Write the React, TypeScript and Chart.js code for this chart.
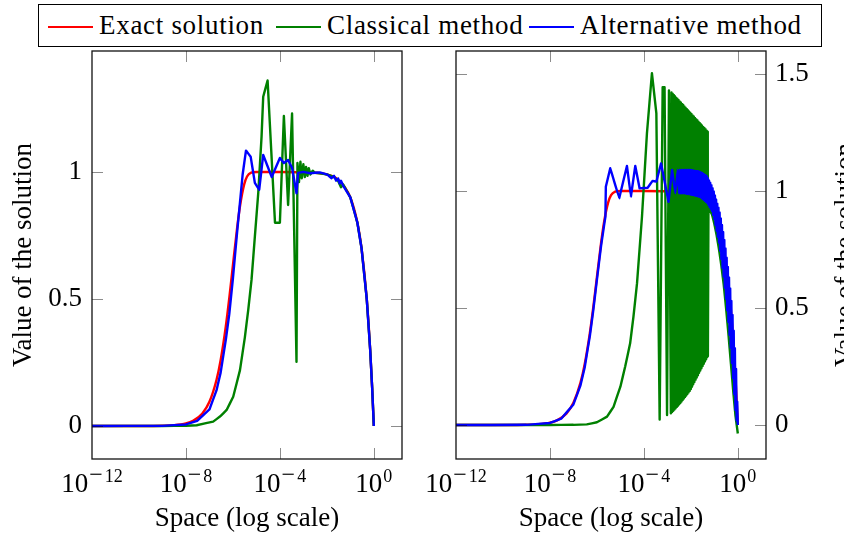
import { useEffect, useRef } from 'react';
import { Chart, registerables } from 'chart.js';

Chart.register(...registerables);

const SERIF = "'Liberation Serif', 'Times New Roman', serif";
const FS = 27;

const seriesLabels = ['Exact solution', 'Classical method', 'Alternative method'];
const seriesColors = ['#ff0000', '#008000', '#0000ff'];

const xTitle = 'Space (log scale)';
const yTitle = 'Value of the solution';
const xTickValues = [1e-12, 1e-8, 1e-4, 1];
const xTickExponents = ['−12', '−8', '−4', '0'];
const xMin = 1e-12;
const xMax = 15.85;
const leftYTicks = [0, 0.5, 1];
const rightYTicks = [0, 0.5, 1, 1.5];
const leftYRange = [-0.13, 1.476];
const rightYRange = [-0.145, 1.598];

// Exact solution (same in both panels)
const exactX = [1e-12, 1e-10, 1e-9, 3e-9, 1e-8, 2e-8, 5e-8, 1e-7, 2e-7, 3e-7, 5e-7, 7e-7, 1e-6, 1.5e-6, 2e-6, 3e-6, 4e-6, 6e-6, 1e-5, 1e-4, 1e-3, 1e-2, 3e-2, 0.1, 0.2, 0.3, 0.5, 0.7, 0.85, 1];
const exactY = [0, 0.0001, 0.001, 0.003, 0.01, 0.02, 0.049, 0.095, 0.181, 0.259, 0.393, 0.503, 0.632, 0.777, 0.865, 0.95, 0.982, 0.997, 1, 1, 0.999, 0.99, 0.97, 0.9, 0.8, 0.7, 0.5, 0.3, 0.15, 0];

// Left panel – classical method
const leftClassicalX = [1e-12, 1e-9, 1e-8, 2.85e-8, 1.44e-7, 2.8e-7, 5.4e-7, 1.03e-6, 2e-6, 3.24e-6, 4.5e-6, 6.2e-6, 8.6e-6, 1.2e-5, 1.66e-5, 1.95e-5, 3.0e-5, 6.2e-5, 1e-4, 1.48e-4, 2.24e-4, 3.3e-4, 5.1e-4, 5.6e-4, 6.5e-4, 7.5e-4, 8.5e-4, 1e-3, 1.15e-3, 1.3e-3, 1.5e-3, 1.7e-3, 2e-3, 2.5e-3, 3e-3, 5e-3, 1e-2, 2e-2, 3e-2, 4e-2, 5e-2, 0.1, 0.2, 0.3, 0.5, 0.7, 0.85, 1];
const leftClassicalY = [0, 0, 0.0005, 0.003, 0.017, 0.037, 0.063, 0.115, 0.22, 0.35, 0.457, 0.575, 0.745, 0.917, 1.139, 1.296, 1.36, 0.8, 0.8, 1.22, 0.87, 1.23, 0.253, 1.035, 0.96, 1.04, 0.975, 1.03, 0.98, 1.02, 0.985, 1.015, 0.99, 1.005, 0.997, 0.995, 0.99, 0.98, 0.965, 0.94, 0.95, 0.9, 0.8, 0.7, 0.5, 0.3, 0.15, 0];

// Left panel – alternative method
const leftAlternativeX = [1e-12, 1e-9, 1e-8, 3e-8, 1e-7, 2e-7, 3e-7, 5e-7, 7e-7, 1e-6, 1.5e-6, 2e-6, 2.6e-6, 3.6e-6, 5.7e-6, 8.6e-6, 1.32e-5, 1.95e-5, 4.5e-5, 1e-4, 1.48e-4, 2.24e-4, 3.3e-4, 5.1e-4, 6e-4, 1e-3, 2e-3, 5e-3, 1e-2, 1.2e-2, 1.6e-2, 2e-2, 2.5e-2, 3e-2, 3.5e-2, 4e-2, 5e-2, 0.1, 0.2, 0.3, 0.5, 0.7, 0.85, 1];
const leftAlternativeY = [0, 0.0005, 0.006, 0.02, 0.065, 0.14, 0.21, 0.34, 0.44, 0.58, 0.76, 0.88, 0.99, 1.084, 1.06, 0.957, 0.93, 1.067, 0.98, 1.055, 1.035, 1.047, 1.016, 0.916, 0.996, 1.0, 0.995, 0.998, 0.99, 0.985, 0.975, 0.985, 0.965, 0.975, 0.955, 0.965, 0.945, 0.9, 0.8, 0.7, 0.5, 0.3, 0.15, 0];

// Right panel – classical method
const rightClassicalX = [1e-12, 1e-8, 1e-7, 3.7e-7, 1e-6, 2.7e-6, 5.1e-6, 1e-5, 1.6e-5, 2.6e-5, 3.6e-5, 5.1e-5, 8.3e-5, 1.35e-4, 2.2e-4, 3.4e-4, 4.7e-4, 6.3e-4, 7.6e-4, 9.7e-4, 1.17e-3, 1.41e-3,
  1.497e-3, 1.585e-3, 1.679e-3, 1.778e-3, 1.884e-3, 1.995e-3, 2.113e-3, 2.239e-3, 2.371e-3, 2.512e-3, 2.661e-3, 2.818e-3, 2.985e-3, 3.162e-3, 3.35e-3, 3.548e-3, 3.758e-3, 3.981e-3, 4.217e-3, 4.467e-3, 4.732e-3, 5.012e-3, 5.309e-3, 5.623e-3, 5.957e-3, 6.31e-3, 6.683e-3, 7.079e-3, 7.499e-3, 7.943e-3, 8.414e-3, 8.913e-3, 9.441e-3,
  1e-2, 1.059e-2, 1.122e-2, 1.189e-2, 1.259e-2, 1.334e-2, 1.413e-2, 1.496e-2, 1.585e-2, 1.679e-2, 1.778e-2, 1.884e-2, 1.995e-2, 2.113e-2, 2.239e-2, 2.371e-2, 2.512e-2, 2.661e-2, 2.818e-2, 2.985e-2, 3.162e-2, 3.35e-2, 3.548e-2, 3.758e-2, 3.981e-2, 4.217e-2, 4.467e-2, 4.732e-2, 5.012e-2, 5.248e-2, 5.309e-2,
  5.623e-2, 7.943e-2, 0.1, 0.1259, 0.1585, 0.1995, 0.2512, 0.3162, 0.3981, 0.5012, 0.631, 0.7943, 1];
const rightClassicalY = [0, 0.0002, 0.001, 0.003, 0.012, 0.036, 0.078, 0.164, 0.25, 0.349, 0.463, 0.605, 0.89, 1.246, 1.503, 1.332, 0.024, 1.443, 1.443, 0.043, 1.43, 0.05,
  1.421, 0.0555, 1.416, 0.061, 1.41, 0.0665, 1.405, 0.072, 1.399, 0.0775, 1.394, 0.083, 1.389, 0.0885, 1.383, 0.094, 1.378, 0.1005, 1.372, 0.107, 1.367, 0.1135, 1.361, 0.12, 1.356, 0.1265, 1.35, 0.133, 1.345, 0.1395, 1.34, 0.146, 1.334,
  0.154, 1.329, 0.164, 1.323, 0.174, 1.318, 0.184, 1.312, 0.194, 1.307, 0.203, 1.302, 0.213, 1.296, 0.223, 1.291, 0.233, 1.285, 0.243, 1.28, 0.252, 1.274, 0.262, 1.269, 0.272, 1.264, 0.281, 1.258, 0.291, 1.253, 0.295,
  0.93, 0.9, 0.86, 0.81, 0.75, 0.68, 0.6, 0.5, 0.39, 0.27, 0.15, 0.04, -0.036];

// Right panel – alternative method
const rightAlternativeX = [1e-12, 1e-9, 1e-8, 3e-8, 1e-7, 2e-7, 3e-7, 5e-7, 7e-7, 1e-6, 1.5e-6, 2e-6, 2.3e-6, 2.4e-6, 3.7e-6, 8.9e-6, 1.9e-5, 2.8e-5, 4.3e-5, 6.6e-5, 1.45e-4, 2.34e-4, 3.4e-4, 5.4e-4, 1.12e-3, 1.58e-3, 2.2e-3, 2.75e-3,
  3.162e-3, 3.35e-3, 3.548e-3, 3.758e-3, 3.981e-3, 4.217e-3, 4.467e-3, 4.732e-3, 5.012e-3, 5.309e-3, 5.623e-3, 5.957e-3, 6.31e-3, 6.683e-3, 7.079e-3, 7.499e-3, 7.943e-3, 8.414e-3, 8.913e-3, 9.441e-3,
  1e-2, 1.059e-2, 1.122e-2, 1.189e-2, 1.259e-2, 1.334e-2, 1.413e-2, 1.496e-2, 1.585e-2, 1.679e-2, 1.778e-2, 1.884e-2, 1.995e-2, 2.113e-2, 2.239e-2, 2.371e-2, 2.512e-2, 2.661e-2, 2.818e-2, 2.985e-2,
  3.162e-2, 3.35e-2, 3.548e-2, 3.758e-2, 3.981e-2, 4.217e-2, 4.467e-2, 4.732e-2, 5.012e-2, 5.309e-2, 5.623e-2, 5.957e-2, 6.31e-2, 6.683e-2, 7.079e-2, 7.499e-2, 7.943e-2, 8.414e-2, 8.913e-2, 9.441e-2,
  0.1, 0.1059, 0.1122, 0.1189, 0.1259, 0.1334, 0.1413, 0.1496, 0.1585, 0.1679, 0.1778, 0.1884, 0.1995, 0.2113, 0.2239, 0.2371, 0.2512, 0.2661, 0.2818, 0.2985,
  0.3162, 0.335, 0.3548, 0.3758, 0.3981, 0.4217, 0.4467, 0.4732, 0.5012, 0.5309, 0.5623, 0.5957, 0.631, 0.6683, 0.7079, 0.7499, 0.7943, 0.8414, 0.8913, 0.9441, 1];
const rightAlternativeY = [0, 0.001, 0.009, 0.027, 0.088, 0.17, 0.245, 0.38, 0.49, 0.62, 0.765, 0.85, 0.89, 1.018, 1.097, 0.969, 1.107, 0.976, 1.107, 1.011, 1.014, 1.043, 1.04, 1.118, 0.954, 1.09, 0.99, 1.09,
  0.99, 1.09, 0.99, 1.09, 0.99, 1.09, 0.99, 1.09, 0.99, 1.09, 0.989, 1.09, 0.988, 1.09, 0.988, 1.09, 0.987, 1.09, 0.986, 1.09,
  0.985, 1.089, 0.984, 1.088, 0.983, 1.087, 0.982, 1.086, 0.98, 1.085, 0.979, 1.084, 0.978, 1.083, 0.976, 1.081, 0.975, 1.078, 0.971, 1.077,
  0.967, 1.073, 0.963, 1.07, 0.958, 1.066, 0.954, 1.063, 0.95, 1.055, 0.941, 1.045, 0.932, 1.035, 0.924, 1.025, 0.915, 1.012, 0.898, 0.998,
  0.88, 0.981, 0.855, 0.964, 0.83, 0.946, 0.805, 0.929, 0.78, 0.908, 0.745, 0.883, 0.71, 0.855, 0.672, 0.825, 0.634, 0.791, 0.587, 0.754,
  0.54, 0.715, 0.49, 0.675, 0.44, 0.631, 0.385, 0.584, 0.33, 0.53, 0.265, 0.47, 0.2, 0.403, 0.132, 0.328, 0.064, 0.24, 0.02, 0.1, 0];

const pts = (xs: number[], ys: number[]) => xs.map((x, i) => ({ x, y: ys[i] }));

function makeDatasets(classX: number[], classY: number[], altX: number[], altY: number[]) {
  return [
    { label: seriesLabels[0], data: pts(exactX, exactY), borderColor: seriesColors[0], backgroundColor: seriesColors[0], borderWidth: 2.4, pointRadius: 0, fill: false, cubicInterpolationMode: 'monotone' as const, order: 3, borderJoinStyle: 'round' as const },
    { label: seriesLabels[1], data: pts(classX, classY), borderColor: seriesColors[1], backgroundColor: seriesColors[1], borderWidth: 2.4, pointRadius: 0, fill: false, tension: 0.0001, order: 2, borderJoinStyle: 'round' as const },
    { label: seriesLabels[2], data: pts(altX, altY), borderColor: seriesColors[2], backgroundColor: seriesColors[2], borderWidth: 2.4, pointRadius: 0, fill: false, tension: 0.0001, order: 1, borderJoinStyle: 'round' as const },
  ];
}

function decorPlugin(rightTitle: boolean) {
  return {
    id: 'decor',
    afterDatasetsDraw(chart: any) {
      const { ctx, chartArea: a, scales } = chart;
      const xs = scales.x;
      const ys = scales.y;
      ctx.save();
      // inner ticks
      ctx.strokeStyle = 'rgba(0,0,0,0.45)';
      ctx.lineWidth = 1;
      ctx.beginPath();
      for (const v of xTickValues) {
        const px = Math.round(xs.getPixelForValue(v)) + 0.5;
        if (px < a.left + 2 || px > a.right - 2) continue;
        ctx.moveTo(px, a.bottom); ctx.lineTo(px, a.bottom - 11);
        ctx.moveTo(px, a.top); ctx.lineTo(px, a.top + 11);
      }
      for (const t of ys.ticks) {
        const py = Math.round(ys.getPixelForValue(t.value)) + 0.5;
        ctx.moveTo(a.left, py); ctx.lineTo(a.left + 11, py);
        ctx.moveTo(a.right, py); ctx.lineTo(a.right - 11, py);
      }
      ctx.stroke();
      // frame
      ctx.strokeStyle = '#111';
      ctx.lineWidth = 1.3;
      ctx.strokeRect(a.left, a.top, a.right - a.left, a.bottom - a.top);
      // x tick labels 10^n
      ctx.fillStyle = '#000';
      ctx.textBaseline = 'alphabetic';
      ctx.textAlign = 'left';
      xTickValues.forEach((v, i) => {
        const px = xs.getPixelForValue(v);
        const exp = xTickExponents[i];
        const hasMinus = exp.startsWith('−');
        const digits = hasMinus ? exp.slice(1) : exp;
        ctx.font = `${FS}px ${SERIF}`;
        const wb = ctx.measureText('10').width;
        ctx.font = `24px ${SERIF}`;
        const wm = hasMinus ? ctx.measureText('−').width + 2 : 0;
        ctx.font = `18px ${SERIF}`;
        const wd = ctx.measureText(digits).width;
        const total = wb + 1 + wm + wd;
        let x0 = px - total / 2;
        ctx.font = `${FS}px ${SERIF}`;
        ctx.fillText('10', x0, a.bottom + 33);
        x0 += wb + 1;
        if (hasMinus) {
          ctx.font = `24px ${SERIF}`;
          ctx.fillText('−', x0, a.bottom + 23);
          x0 += wm;
        }
        ctx.font = `18px ${SERIF}`;
        ctx.fillText(digits, x0, a.bottom + 23);
      });
      if (rightTitle) {
        ctx.font = `${FS}px ${SERIF}`;
        ctx.textAlign = 'center';
        ctx.textBaseline = 'alphabetic';
        ctx.translate(a.right + 87, (a.top + a.bottom) / 2);
        ctx.rotate(-Math.PI / 2);
        ctx.fillText(yTitle, 0, 0);
      }
      ctx.restore();
    },
  };
}

function makeConfig(side: 'left' | 'right') {
  const isLeft = side === 'left';
  const yRange = isLeft ? leftYRange : rightYRange;
  const yTicks = isLeft ? leftYTicks : rightYTicks;
  const datasets = isLeft
    ? makeDatasets(leftClassicalX, leftClassicalY, leftAlternativeX, leftAlternativeY)
    : makeDatasets(rightClassicalX, rightClassicalY, rightAlternativeX, rightAlternativeY);
  return {
    type: 'line' as const,
    data: { datasets },
    options: {
      responsive: false,
      animation: false as const,
      devicePixelRatio: 1,
      events: [],
      layout: { padding: isLeft ? { top: 51, right: 18, left: 0, bottom: 0 } : { top: 51, right: 0, left: 36, bottom: 0 } },
      plugins: { legend: { display: false }, tooltip: { enabled: false }, title: { display: false } },
      scales: {
        x: {
          type: 'logarithmic' as const,
          position: 'bottom' as const,
          min: xMin,
          max: xMax,
          grid: { display: false, drawTicks: false },
          border: { display: false },
          ticks: { display: false },
          afterBuildTicks: (s: any) => { s.ticks = xTickValues.map((v) => ({ value: v })); },
          afterFit: (s: any) => { s.height = 80; },
          title: { display: true, text: xTitle, color: '#000', font: { family: SERIF, size: FS }, padding: { top: 0, bottom: 4 } },
        },
        y: {
          type: 'linear' as const,
          position: isLeft ? ('left' as const) : ('right' as const),
          min: yRange[0],
          max: yRange[1],
          grid: { display: false, drawTicks: false },
          border: { display: false },
          ticks: { color: '#000', font: { family: SERIF, size: FS }, padding: isLeft ? 10 : 9, callback: (v: any) => String(v) },
          afterBuildTicks: (s: any) => { s.ticks = yTicks.map((v) => ({ value: v })); },
          afterFit: (s: any) => { s.width = isLeft ? 92 : 78; },
          title: { display: isLeft, text: yTitle, color: '#000', font: { family: SERIF, size: FS }, padding: { top: 8, bottom: 0 } },
        },
      },
    },
    plugins: [decorPlugin(!isLeft)],
  };
}

const legendLineStarts = [9, 237, 490];

export default function App() {
  const leftRef = useRef<HTMLCanvasElement>(null);
  const rightRef = useRef<HTMLCanvasElement>(null);
  useEffect(() => {
    const c1 = new Chart(leftRef.current as HTMLCanvasElement, makeConfig('left') as any);
    const c2 = new Chart(rightRef.current as HTMLCanvasElement, makeConfig('right') as any);
    return () => { c1.destroy(); c2.destroy(); };
  }, []);
  return (
    <div style={{ position: 'absolute', left: 0, top: 0, width: 844, height: 539, background: '#fff', overflow: 'hidden' }}>
      <canvas ref={leftRef} width={420} height={539} style={{ position: 'absolute', left: 0, top: 0 }} />
      <canvas ref={rightRef} width={424} height={539} style={{ position: 'absolute', left: 420, top: 0 }} />
      <div style={{ position: 'absolute', left: 38, top: 4, width: 784, height: 43, border: '1px solid #000', boxSizing: 'border-box', background: '#fff' }}>
        {seriesLabels.map((lab, i) => (
          <div key={lab} style={{ position: 'absolute', left: legendLineStarts[i], top: 0, height: '100%', display: 'flex', alignItems: 'center', whiteSpace: 'nowrap' }}>
            <span style={{ display: 'inline-block', width: 45, height: 0, borderTop: `2.5px solid ${seriesColors[i]}`, marginRight: 6, marginTop: 2 }} />
            <span style={{ fontFamily: SERIF, fontSize: FS, lineHeight: 1, color: '#000', letterSpacing: '0.7px' }}>{lab}</span>
          </div>
        ))}
      </div>
    </div>
  );
}
